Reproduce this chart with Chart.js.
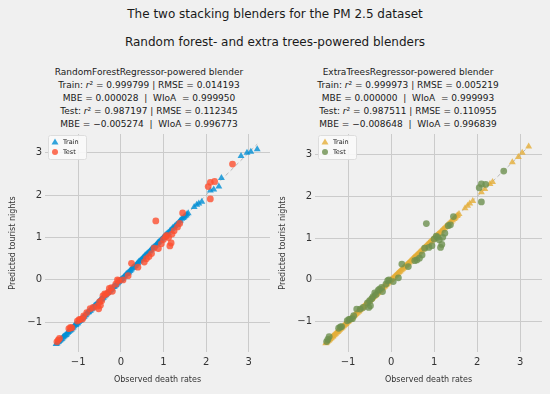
<!DOCTYPE html>
<html>
<head>
<meta charset="utf-8">
<script src="https://cdn.jsdelivr.net/npm/chart.js@4/dist/chart.umd.min.js"></script>
<style>
  body { margin: 0; background: #f0f0f0; font-family: "DejaVu Sans", sans-serif; color: #222; }
  #fig { position: relative; width: 550px; height: 394px; overflow: hidden; }
  .sup { position: absolute; left: 0; width: 550px; text-align: center; font-size: 12px; line-height: 14px; color: #1a1a1a; }
  .sub { position: absolute; width: 260px; text-align: center; font-size: 9px; line-height: 13px; top: 66px; color: #1a1a1a; }
  .box { position: absolute; top: 125px; }
</style>
</head>
<body>
<div id="fig">
  <div class="sup" style="top:7px">The two stacking blenders for the PM 2.5 dataset</div>
  <div class="sup" style="top:35px">Random forest- and extra trees-powered blenders</div>
  <div class="sub" style="left:19px">
    RandomForestRegressor-powered blender<br>
    Train: <i>r</i>² = 0.999799 | RMSE = 0.014193<br>
    MBE = 0.000028 &nbsp;| &nbsp;WIoA &nbsp;= 0.999950<br>
    Test: <i>r</i>² = 0.987197 | RMSE = 0.112345<br>
    MBE = −0.005274 &nbsp;| &nbsp;WIoA = 0.996773
  </div>
  <div class="sub" style="left:278px">
    ExtraTreesRegressor-powered blender<br>
    Train: <i>r</i>² = 0.999973 | RMSE = 0.005219<br>
    MBE = 0.000000 &nbsp;| &nbsp;WIoA &nbsp;= 0.999993<br>
    Test: <i>r</i>² = 0.987511 | RMSE = 0.110955<br>
    MBE = −0.008648 &nbsp;| &nbsp;WIoA = 0.996839
  </div>
  <div class="box" style="left:0px"><canvas id="rf" width="275" height="269"></canvas></div>
  <div class="box" style="left:275px"><canvas id="et" width="275" height="269"></canvas></div>
</div>
<script>
// observed values (shared by both blenders)
const trainX = [-1.52,-1.50,-1.48,-1.46,-1.45,-1.43,-1.42,-1.40,-1.38,-1.36,-1.35,-1.33,-1.31,-1.29,-1.27,-1.25,-1.24,-1.22,-1.20,-1.18,
  -1.16,-1.14,-1.12,-1.10,-1.08,-1.06,-1.05,-1.03,-1.01,-0.99,-0.97,-0.95,-0.94,-0.92,-0.90,-0.88,-0.86,-0.84,-0.82,-0.80,
  -0.78,-0.76,-0.75,-0.73,-0.71,-0.69,-0.67,-0.65,-0.63,-0.61,-0.60,-0.58,-0.56,-0.54,-0.52,-0.50,-0.48,-0.46,-0.45,-0.43,
  -0.41,-0.39,-0.37,-0.35,-0.33,-0.31,-0.30,-0.28,-0.26,-0.24,-0.22,-0.20,-0.18,-0.16,-0.15,-0.13,-0.11,-0.09,-0.07,-0.05,
  -0.03,-0.01,0.00,0.02,0.04,0.06,0.08,0.10,0.12,0.14,0.15,0.17,0.19,0.21,0.23,0.25,0.27,0.29,0.30,0.32,
  0.34,0.36,0.38,0.40,0.42,0.44,0.46,0.48,0.50,0.52,0.53,0.55,0.57,0.59,0.61,0.63,0.65,0.67,0.69,0.71,
  0.73,0.75,0.77,0.79,0.81,0.83,0.85,0.87,0.88,0.90,0.92,0.94,0.96,0.98,1.00,1.02,1.04,1.06,1.08,1.10,
  1.12,1.15,1.17,1.20,1.22,1.25,1.27,1.30,1.32,1.35,1.38,1.40,1.43,1.46,1.48,1.50,1.53,1.55,1.58,1.72,
  1.78,1.83,1.90,2.10,2.18,2.30,2.36,2.82,2.96,3.05,3.20];
const testX = [-1.50,-1.47,-1.44,-1.22,-1.18,-1.15,-1.02,-0.98,-0.95,-0.90,-0.87,-0.80,-0.72,-0.65,-0.55,-0.52,-0.50,-0.48,-0.45,-0.42,
  -0.38,-0.35,-0.30,-0.27,-0.22,-0.20,-0.12,-0.08,-0.05,0.05,0.17,0.25,0.40,0.55,0.60,0.66,0.72,0.78,0.82,0.88,
  0.95,1.00,1.05,1.08,1.12,1.15,1.18,1.20,1.25,1.33,1.38,1.45,2.05,2.10,2.10,2.20,2.62];

// predictions, random forest blender
const rfTrainY = [-1.51,-1.50,-1.47,-1.46,-1.44,-1.43,-1.41,-1.40,-1.39,-1.36,-1.34,-1.33,-1.31,-1.30,-1.28,-1.25,-1.23,-1.22,-1.20,-1.19,
  -1.17,-1.14,-1.12,-1.09,-1.07,-1.06,-1.05,-1.03,-1.02,-0.99,-0.97,-0.96,-0.93,-0.92,-0.90,-0.88,-0.87,-0.84,-0.82,-0.79,
  -0.77,-0.76,-0.75,-0.73,-0.72,-0.69,-0.67,-0.65,-0.62,-0.61,-0.60,-0.58,-0.57,-0.54,-0.52,-0.50,-0.47,-0.46,-0.45,-0.43,
  -0.42,-0.39,-0.37,-0.35,-0.32,-0.31,-0.30,-0.28,-0.27,-0.24,-0.22,-0.20,-0.17,-0.16,-0.15,-0.13,-0.12,-0.09,-0.07,-0.05,
  -0.02,-0.01,0.00,0.02,0.03,0.06,0.08,0.10,0.13,0.14,0.15,0.17,0.18,0.21,0.23,0.25,0.28,0.29,0.30,0.32,
  0.33,0.36,0.38,0.40,0.43,0.44,0.46,0.48,0.49,0.52,0.53,0.55,0.58,0.59,0.61,0.63,0.64,0.67,0.69,0.71,
  0.74,0.75,0.77,0.79,0.80,0.83,0.85,0.87,0.89,0.90,0.92,0.94,0.95,0.98,1.00,1.02,1.05,1.06,1.08,1.10,
  1.11,1.15,1.17,1.20,1.23,1.25,1.27,1.30,1.31,1.35,1.38,1.40,1.44,1.46,1.48,1.50,1.52,1.55,1.57,1.72,
  1.77,1.80,1.84,2.11,2.13,2.20,2.40,2.92,3.00,3.02,3.08];
const rfTestY = [-1.46,-1.42,-1.38,-1.15,-1.12,-1.13,-0.97,-0.94,-0.93,-0.92,-0.85,-0.77,-0.68,-0.65,-0.62,-0.68,-0.52,-0.60,-0.49,-0.38,
  -0.33,-0.34,-0.30,-0.20,-0.18,-0.27,-0.10,0.00,-0.02,0.00,0.10,0.39,0.30,0.42,0.50,0.55,0.62,0.75,1.39,0.74,
  0.85,0.95,1.02,1.05,1.00,0.80,0.87,1.08,1.16,1.25,1.33,1.58,2.20,2.30,1.91,2.32,2.73];

// predictions, extra trees blender
const etTrainY = [-1.52,-1.50,-1.48,-1.46,-1.45,-1.43,-1.42,-1.40,-1.38,-1.36,-1.35,-1.33,-1.31,-1.29,-1.27,-1.25,-1.24,-1.22,-1.20,-1.18,
  -1.16,-1.14,-1.12,-1.10,-1.08,-1.06,-1.05,-1.03,-1.01,-0.99,-0.97,-0.95,-0.94,-0.92,-0.90,-0.88,-0.86,-0.84,-0.82,-0.80,
  -0.78,-0.76,-0.75,-0.73,-0.71,-0.69,-0.67,-0.65,-0.63,-0.61,-0.60,-0.58,-0.56,-0.54,-0.52,-0.50,-0.48,-0.46,-0.45,-0.43,
  -0.41,-0.39,-0.37,-0.35,-0.33,-0.31,-0.30,-0.28,-0.26,-0.24,-0.22,-0.20,-0.18,-0.16,-0.15,-0.13,-0.11,-0.09,-0.07,-0.05,
  -0.03,-0.01,0.00,0.02,0.04,0.06,0.08,0.10,0.12,0.14,0.15,0.17,0.19,0.21,0.23,0.25,0.27,0.29,0.30,0.32,
  0.34,0.36,0.38,0.40,0.42,0.44,0.46,0.48,0.50,0.52,0.53,0.55,0.57,0.59,0.61,0.63,0.65,0.67,0.69,0.71,
  0.73,0.75,0.77,0.79,0.81,0.83,0.85,0.87,0.88,0.90,0.92,0.94,0.96,0.98,1.00,1.02,1.04,1.06,1.08,1.10,
  1.12,1.15,1.17,1.20,1.22,1.25,1.27,1.30,1.32,1.35,1.38,1.40,1.43,1.46,1.48,1.50,1.53,1.55,1.58,1.72,
  1.78,1.83,1.89,2.10,2.18,2.30,2.35,2.82,2.95,3.05,3.20];
const etTestY = [-1.48,-1.43,-1.36,-1.16,-1.13,-1.12,-0.98,-0.95,-0.94,-0.93,-0.86,-0.70,-0.70,-0.66,-0.55,-0.66,-0.50,-0.62,-0.45,-0.40,
  -0.31,-0.35,-0.25,-0.22,-0.18,-0.28,-0.10,-0.02,0.00,-0.04,0.05,0.38,0.32,0.46,0.48,0.52,0.60,0.76,1.35,0.78,
  0.82,0.98,1.05,1.02,0.96,0.78,0.85,1.02,1.12,1.30,1.32,1.52,2.21,2.30,1.87,2.29,2.61];

const lineEnds = [-1.5, 3.2];
const tickVals = [-1, 0, 1, 2, 3];

function pts(xs, ys) {
  return xs.map((x, i) => ({x: x, y: ys[i]}));
}

// legend box drawn inside the plot, top left
const innerLegend = {
  id: 'innerLegend',
  afterDraw(chart) {
    const ctx = chart.ctx;
    const a = chart.chartArea;
    const x0 = a.left + 3, y0 = a.top + 1;
    ctx.save();
    ctx.fillStyle = 'rgba(250,250,250,0.9)';
    ctx.strokeStyle = '#dddddd';
    ctx.lineWidth = 1;
    ctx.beginPath();
    ctx.roundRect(x0 + 0.5, y0 + 0.5, 38, 24, 2);
    ctx.fill();
    ctx.stroke();
    const items = chart.data.datasets.filter(d => d.label);
    ctx.font = '6.5px "DejaVu Sans"';
    ctx.textBaseline = 'middle';
    items.forEach((d, i) => {
      const cy = y0 + 7 + i * 10;
      ctx.fillStyle = d.backgroundColor;
      ctx.beginPath();
      if (d.pointStyle === 'triangle') {
        ctx.moveTo(x0 + 7, cy - 3.5); ctx.lineTo(x0 + 10.5, cy + 2.5); ctx.lineTo(x0 + 3.5, cy + 2.5);
      } else {
        ctx.arc(x0 + 7, cy, 3, 0, Math.PI * 2);
      }
      ctx.fill();
      ctx.fillStyle = '#222';
      ctx.fillText(d.label, x0 + 15, cy);
    });
    ctx.restore();
  }
};

function makeChart(id, trainY, testY, trainCol, testCol, lim, pad, yTitlePad) {
  const axisFont = {family: '"DejaVu Sans"', size: 10};
  const titleFont = {family: '"DejaVu Sans"', size: 8};
  return new Chart(document.getElementById(id), {
    type: 'scatter',
    data: {
      datasets: [
        {label: 'Train', data: pts(trainX, trainY), pointStyle: 'triangle', pointRadius: 4,
         backgroundColor: trainCol, borderWidth: 0, order: 1},
        {label: 'Test', data: pts(testX, testY), pointStyle: 'circle', pointRadius: 3.4,
         backgroundColor: testCol, borderWidth: 0, order: 0},
        {type: 'line', data: pts(lineEnds, lineEnds), borderColor: '#b5b5b5', borderWidth: 1,
         borderDash: [4, 3], pointRadius: 0, fill: false, order: 2}
      ]
    },
    options: {
      responsive: false,
      animation: false,
      devicePixelRatio: 1,
      layout: {padding: {top: 6, right: pad, bottom: 0, left: 0}},
      plugins: {legend: {display: false}, tooltip: {enabled: false}},
      scales: {
        x: {
          type: 'linear', min: lim.x[0], max: lim.x[1],
          afterBuildTicks: s => { s.ticks = tickVals.map(v => ({value: v})); },
          afterFit: s => { s.height = 42; },
          grid: {color: '#cbcbcb', lineWidth: 1, drawTicks: false},
          border: {display: false},
          ticks: {font: axisFont, color: '#333', padding: 4,
                  callback: v => v < 0 ? '\u2212' + Math.abs(v) : String(v)},
          title: {display: true, text: 'Observed death rates', font: titleFont, color: '#333',
                  padding: {top: 9, bottom: 9}}
        },
        y: {
          type: 'linear', min: lim.y[0], max: lim.y[1],
          afterBuildTicks: s => { s.ticks = tickVals.map(v => ({value: v})); },
          afterFit: s => { s.width = lim.w; },
          grid: {color: '#cbcbcb', lineWidth: 1, drawTicks: false},
          border: {display: false},
          ticks: {font: axisFont, color: '#333', padding: 3,
                  callback: v => v < 0 ? '\u2212' + Math.abs(v) : String(v)},
          title: {display: true, text: 'Predicted tourist nights', font: titleFont, color: '#333',
                  padding: {top: yTitlePad, bottom: yTitlePad}}
        }
      }
    },
    plugins: [innerLegend]
  });
}

makeChart('rf', rfTrainY, rfTestY, 'rgba(0,143,213,0.8)', 'rgba(252,79,48,0.8)',
  {x: [-1.78, 3.50], y: [-1.70, 3.44], w: 45}, 5, 8);
makeChart('et', etTrainY, etTestY, 'rgba(229,174,56,0.8)', 'rgba(109,144,79,0.8)',
  {x: [-1.77, 3.51], y: [-1.73, 3.50], w: 40}, 8, 3);
</script>
</body>
</html>
